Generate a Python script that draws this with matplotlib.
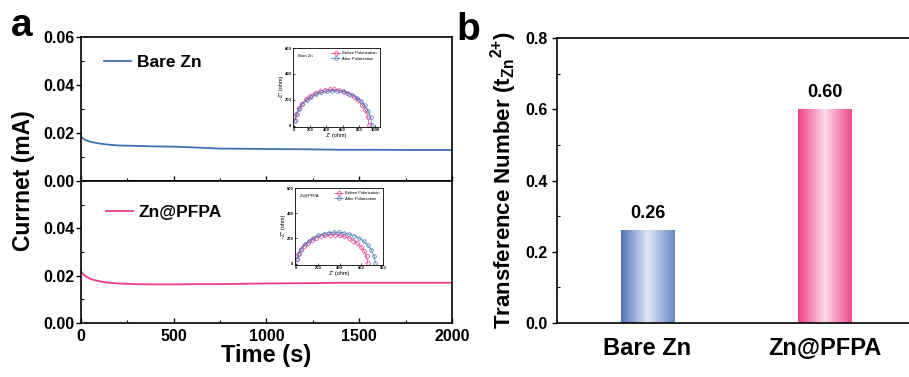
import numpy as np
import matplotlib
matplotlib.use("Agg")
import matplotlib.pyplot as plt
from matplotlib.ticker import MultipleLocator
from matplotlib.colors import LinearSegmentedColormap

plt.rcParams['font.family'] = ['Liberation Sans', 'DejaVu Sans']
plt.rcParams['font.weight'] = 'bold'
plt.rcParams['axes.labelweight'] = 'bold'
plt.rcParams['mathtext.fontset'] = 'custom'
plt.rcParams['mathtext.rm'] = 'Liberation Sans:bold'
plt.rcParams['mathtext.bf'] = 'Liberation Sans:bold'
plt.rcParams['mathtext.it'] = 'Liberation Sans:bold'

# ---------------- data ----------------
time_s = [0, 20, 50, 100, 150, 200, 300, 400, 500, 600, 750, 900, 1000, 1200, 1400, 1600, 1800, 2000]
bare_current = [0.0184, 0.0172, 0.0163, 0.0156, 0.0151, 0.0148, 0.0146, 0.0144, 0.0143, 0.0140, 0.0135, 0.0134,
                0.0133, 0.0132, 0.0130, 0.0130, 0.0129, 0.0129]
pfpa_current = [0.0217, 0.0200, 0.0186, 0.0176, 0.0170, 0.0167, 0.0164, 0.0163, 0.0163, 0.0164, 0.0164, 0.0166,
                0.0167, 0.0168, 0.0170, 0.0170, 0.0170, 0.0170]

bare_before_zr = [10, 30, 60, 100, 150, 200, 260, 320, 380, 440, 500, 560, 620, 680, 740, 790, 840, 880, 910, 925]
bare_before_zi = [41, 91, 133, 171, 204, 229, 251, 266, 276, 280, 280, 275, 264, 248, 225, 199, 162, 121, 71, 5]
bare_after_zr = [15, 35, 65, 105, 160, 215, 275, 340, 405, 470, 535, 600, 660, 720, 780, 830, 875, 915, 945, 960]
bare_after_zi = [40, 88, 128, 165, 197, 221, 243, 257, 266, 270, 270, 265, 254, 239, 216, 192, 157, 116, 68, 5]
pfpa_before_zr = [7, 21, 43, 71, 107, 143, 186, 228, 271, 314, 357, 400, 442, 485, 528, 564, 599, 628, 649, 660]
pfpa_before_zi = [34, 75, 109, 140, 168, 189, 207, 219, 227, 230, 230, 225, 216, 204, 184, 163, 133, 99, 58, 5]
pfpa_after_zr = [8, 24, 47, 79, 118, 158, 205, 253, 300, 347, 395, 442, 489, 537, 584, 623, 663, 694, 718, 730]
pfpa_after_zi = [37, 81, 119, 153, 183, 205, 225, 238, 247, 250, 250, 245, 235, 222, 200, 178, 145, 108, 63, 5]

categories = ['Bare Zn', 'Zn@PFPA']
transference = [0.26, 0.60]
value_labels = ['0.26', '0.60']

blue = '#4272b5'
pink = '#ea3a8c'

fig = plt.figure(figsize=(9.09, 3.77), dpi=100)

ax_top = fig.add_axes([0.0891, 0.520, 0.408, 0.382])
ax_bot = fig.add_axes([0.0891, 0.1432, 0.408, 0.377])

for ax in (ax_top, ax_bot):
    ax.set_xlim(0, 2000)
    ax.set_ylim(0, 0.06)
    ax.xaxis.set_major_locator(MultipleLocator(500))
    ax.xaxis.set_minor_locator(MultipleLocator(250))
    ax.yaxis.set_major_locator(MultipleLocator(0.02))
    ax.yaxis.set_minor_locator(MultipleLocator(0.01))
    ax.tick_params(which='both', direction='in', top=False, right=False)
    ax.tick_params(axis='y', which='major', direction='out', length=3.5, width=1)
    ax.tick_params(axis='x', which='major', length=3.5, width=1)
    ax.tick_params(which='minor', length=2.2, width=0.8)
    ax.tick_params(axis='y', labelsize=11.5, pad=1)
    ax.tick_params(axis='x', labelsize=11.5, pad=4)
    for s in ax.spines.values():
        s.set_linewidth(1.2)
    ax.yaxis.set_major_formatter(matplotlib.ticker.FormatStrFormatter('%.2f'))

ax_top.tick_params(axis='x', labelbottom=False)
ax_bot.set_yticks([0.0, 0.02, 0.04])

ax_top.plot(time_s, bare_current, color=blue, lw=1.3, label='Bare Zn')
ax_bot.plot(time_s, pfpa_current, color=pink, lw=1.3, label='Zn@PFPA')

ax_top.legend(loc='center left', bbox_to_anchor=(0.062, 0.82), frameon=False, fontsize=12.5,
              handlelength=1.55, handletextpad=0.35, borderpad=0, borderaxespad=0)
ax_bot.legend(loc='center left', bbox_to_anchor=(0.067, 0.775), frameon=False, fontsize=12.5,
              handlelength=1.55, handletextpad=0.35, borderpad=0, borderaxespad=0)

ax_bot.set_xlabel('Time (s)', fontsize=17, labelpad=0, fontweight='bold')
fig.text(0.026, 0.522, 'Currnet (mA)', rotation=90, ha='center', va='center', fontsize=16.5,
         fontweight='bold')
fig.text(0.012, 0.905, 'a', fontsize=28, fontweight='bold')
fig.text(0.502, 0.895, 'b', fontsize=28, fontweight='bold')

# ---------------- insets ----------------
def inset(rect, title, b_zr, b_zi, a_zr, a_zi, xmax, xstep):
    ia = fig.add_axes(rect)
    ia.plot(b_zr, b_zi, color=pink, lw=0.5, marker='D', ms=2.6, mfc='none', mew=0.5,
            label='Before Polarization')
    ia.plot(a_zr, a_zi, color=blue, lw=0.5, marker='o', ms=2.6, mfc='none', mew=0.5,
            label='After Polarization')
    ia.set_xlim(-10, xmax)
    ia.set_ylim(-10, 600)
    ia.xaxis.set_major_locator(MultipleLocator(xstep))
    ia.yaxis.set_major_locator(MultipleLocator(200))
    ia.tick_params(which='both', direction='in', labelsize=3, length=1.2, width=0.5, pad=1)
    for s in ia.spines.values():
        s.set_linewidth(0.6)
    ia.set_xlabel("Z' (ohm)", fontsize=4, labelpad=0.5, fontweight='normal')
    ia.set_ylabel("-Z'' (ohm)", fontsize=4, labelpad=0.5, fontweight='normal')
    ia.text(0.06, 0.9, title, transform=ia.transAxes, fontsize=3, fontweight='normal', va='center')
    ia.legend(loc='upper right', frameon=False, handlelength=2.2, borderpad=0.3,
              labelspacing=0.3, handletextpad=0.4, prop={'size': 3, 'weight': 'normal'})
    return ia

inset([0.3223, 0.6631, 0.0957, 0.2095], 'Bare Zn', bare_before_zr, bare_before_zi,
      bare_after_zr, bare_after_zi, 1060, 200)
inset([0.3245, 0.2971, 0.0968, 0.2042], 'Zn@PFPA', pfpa_before_zr, pfpa_before_zi,
      pfpa_after_zr, pfpa_after_zi, 800, 200)

# ---------------- panel b ----------------
axb = fig.add_axes([0.6128, 0.1432, 0.3944, 0.756])
x = np.arange(len(categories))
bars = axb.bar(x, transference, width=0.3, facecolor='none', edgecolor='none')
grad_cols = [['#5075b8', '#dfe8f6', '#6787c2'], ['#ef3f88', '#fdd9eb', '#f0488e']]
for rect, cols in zip(bars, grad_cols):
    cmap = LinearSegmentedColormap.from_list('g', cols)
    g = np.linspace(0, 1, 256).reshape(1, -1)
    x0, w, h = rect.get_x(), rect.get_width(), rect.get_height()
    axb.imshow(g, cmap=cmap, extent=[x0, x0 + w, 0, h], aspect='auto', zorder=2)

axb.bar_label(bars, labels=value_labels, padding=6, fontsize=13, fontweight='bold')
axb.set_xlim(-0.51, 1.51)
axb.set_ylim(0, 0.8)
axb.set_xticks(x)
axb.set_xticklabels(categories, fontsize=17, fontweight='bold')
axb.yaxis.set_major_locator(MultipleLocator(0.2))
axb.yaxis.set_minor_locator(MultipleLocator(0.1))
axb.yaxis.set_major_formatter(matplotlib.ticker.FormatStrFormatter('%.1f'))
axb.tick_params(axis='x', length=0, pad=10)
axb.tick_params(axis='y', which='major', direction='out', length=3.5, width=1, labelsize=11.5, pad=3)
axb.tick_params(axis='y', which='minor', direction='in', length=2.2, width=0.8)
for s in axb.spines.values():
    s.set_linewidth(1.2)
axb.set_ylabel(r'Transference Number (t$_{\mathrm{Zn}}$$^{2{+}}$)', fontsize=16,
               labelpad=5, fontweight='bold')

fig.savefig('out.png', dpi=100)
